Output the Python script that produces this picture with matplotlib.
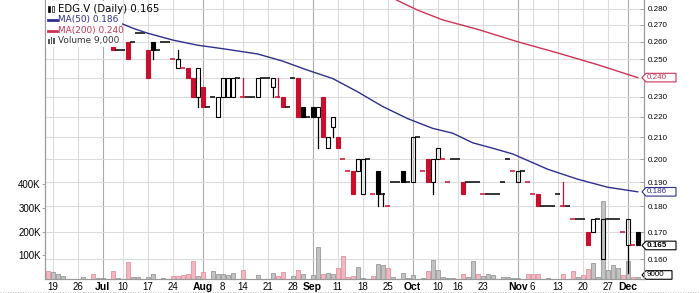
import numpy as np
import pandas as pd
import matplotlib
matplotlib.use('Agg')
import matplotlib.pyplot as plt
from matplotlib.patches import Rectangle, Polygon
from matplotlib.transforms import blended_transform_factory
from matplotlib.ticker import NullLocator, NullFormatter

plt.rcParams['font.family'] = ['Liberation Sans', 'DejaVu Sans']

# ------------------------------------------------------------------
# data (EDG.V daily, TSX-V trading days 2017)
# ------------------------------------------------------------------
holidays = ['2017-07-03', '2017-08-07', '2017-09-04', '2017-10-09']
dates = pd.bdate_range('2017-06-16', '2017-12-05')
dates = dates[~dates.isin(pd.to_datetime(holidays))]

# daily candles from Jul 6 (earlier ones sit under the legend)
first_candle = '2017-07-06'
prev_close = 0.26
opens = [0.258, 0.255, 0.255, 0.26, 0.26, 0.265, 0.265, 0.255, 0.26, 0.255,
         0.26, 0.26, 0.25, 0.245, 0.245, 0.245, 0.24, 0.23, 0.235, 0.225,
         0.23, 0.22, 0.23, 0.23, 0.23, 0.24, 0.23, 0.23, 0.23, 0.23,
         0.24, 0.24, 0.235, 0.23, 0.23, 0.225, 0.24, 0.24, 0.225, 0.22,
         0.225, 0.22, 0.23, 0.205, 0.215, 0.21, 0.2, 0.195, 0.195, 0.195,
         0.185, 0.2, 0.185, 0.195, 0.185, 0.18, 0.19, 0.19, 0.195, 0.19,
         0.19, 0.21, 0.195, 0.2, 0.19, 0.2, 0.2, 0.19, 0.2, 0.2,
         0.19, 0.19, 0.19, 0.19, 0.185, 0.185, 0.185, 0.185, 0.19, 0.2,
         0.195, 0.19, 0.195, 0.19, 0.185, 0.185, 0.18, 0.18, 0.18, 0.185,
         0.18, 0.18, 0.175, 0.175, 0.175, 0.17, 0.17, 0.175, 0.16, 0.175,
         0.175, 0.175, 0.17, 0.165, 0.165, 0.17]
highs = [0.258, 0.255, 0.255, 0.26, 0.26, 0.265, 0.265, 0.255, 0.26, 0.255,
         0.26, 0.26, 0.25, 0.255, 0.245, 0.245, 0.24, 0.245, 0.235, 0.225,
         0.23, 0.23, 0.24, 0.24, 0.24, 0.24, 0.24, 0.23, 0.23, 0.24,
         0.24, 0.24, 0.24, 0.24, 0.23, 0.225, 0.24, 0.24, 0.225, 0.22,
         0.225, 0.225, 0.23, 0.21, 0.22, 0.21, 0.2, 0.195, 0.195, 0.2,
         0.2, 0.2, 0.185, 0.195, 0.185, 0.18, 0.19, 0.19, 0.195, 0.19,
         0.21, 0.21, 0.195, 0.2, 0.2, 0.205, 0.2, 0.19, 0.2, 0.2,
         0.19, 0.19, 0.19, 0.19, 0.185, 0.185, 0.185, 0.185, 0.19, 0.2,
         0.195, 0.195, 0.195, 0.19, 0.185, 0.185, 0.18, 0.18, 0.18, 0.185,
         0.19, 0.18, 0.175, 0.175, 0.175, 0.17, 0.175, 0.175, 0.175, 0.175,
         0.175, 0.175, 0.17, 0.175, 0.165, 0.17]
lows = [0.255, 0.255, 0.255, 0.25, 0.26, 0.265, 0.265, 0.24, 0.25, 0.255,
        0.26, 0.26, 0.25, 0.245, 0.245, 0.24, 0.23, 0.225, 0.225, 0.225,
        0.23, 0.22, 0.23, 0.23, 0.23, 0.24, 0.23, 0.23, 0.23, 0.23,
        0.24, 0.24, 0.23, 0.23, 0.225, 0.225, 0.24, 0.22, 0.22, 0.22,
        0.22, 0.205, 0.21, 0.205, 0.21, 0.205, 0.2, 0.195, 0.185, 0.195,
        0.185, 0.2, 0.185, 0.18, 0.18, 0.18, 0.19, 0.19, 0.19, 0.19,
        0.19, 0.21, 0.195, 0.19, 0.185, 0.2, 0.2, 0.19, 0.2, 0.2,
        0.185, 0.19, 0.19, 0.19, 0.185, 0.185, 0.185, 0.185, 0.19, 0.2,
        0.195, 0.19, 0.195, 0.19, 0.185, 0.18, 0.18, 0.18, 0.18, 0.185,
        0.18, 0.18, 0.175, 0.175, 0.175, 0.165, 0.17, 0.175, 0.16, 0.175,
        0.175, 0.175, 0.17, 0.155, 0.165, 0.165]
closes = [0.255, 0.255, 0.255, 0.25, 0.26, 0.265, 0.265, 0.24, 0.255, 0.255,
          0.26, 0.26, 0.25, 0.25, 0.245, 0.24, 0.23, 0.245, 0.225, 0.225,
          0.23, 0.23, 0.24, 0.24, 0.24, 0.24, 0.23, 0.23, 0.23, 0.24,
          0.24, 0.24, 0.24, 0.23, 0.225, 0.225, 0.24, 0.22, 0.22, 0.22,
          0.22, 0.225, 0.21, 0.21, 0.22, 0.205, 0.2, 0.195, 0.185, 0.2,
          0.2, 0.2, 0.185, 0.185, 0.185, 0.18, 0.19, 0.19, 0.19, 0.19,
          0.21, 0.21, 0.195, 0.19, 0.2, 0.205, 0.2, 0.19, 0.2, 0.2,
          0.185, 0.19, 0.19, 0.19, 0.185, 0.185, 0.185, 0.185, 0.19, 0.2,
          0.195, 0.195, 0.195, 0.19, 0.185, 0.18, 0.18, 0.18, 0.18, 0.185,
          0.18, 0.18, 0.175, 0.175, 0.175, 0.165, 0.175, 0.175, 0.175, 0.175,
          0.175, 0.175, 0.17, 0.175, 0.165, 0.165]

# volume in thousands, one per trading day from Jun 16
volume_k = [35, 28, 21, 11, 0, 0, 0, 8, 0, 22,
            4, 4, 0, 35, 6, 0, 71, 7, 8, 0,
            8, 21, 0, 4, 0, 14, 11, 15, 22, 77,
            11, 29, 0, 35, 22, 21, 18, 25, 0, 36,
            0, 0, 18, 0, 0, 25, 14, 29, 0, 11,
            39, 22, 0, 15, 135, 21, 25, 22, 46, 95,
            10, 14, 51, 6, 0, 14, 63, 58, 46, 8,
            0, 25, 6, 18, 0, 4, 32, 81, 39, 8,
            4, 3, 0, 20, 8, 77, 22, 14, 21, 18,
            0, 8, 10, 4, 6, 0, 21, 22, 22, 0,
            4, 0, 0, 21, 0, 32, 10, 16, 42, 67,
            8, 327, 36, 58, 46, 18, 77, 8, 9]
volume_dir = list('pggggggggp' 'gggpggpggg' 'gggggppppp' 'gpgggggggp'
                  'ggggggppgg' 'pggggpggpp' 'ppgggpggpg' 'ggggggpggg'
                  'gggpggpggg' 'ggggggpppg' 'gggpgpgppg' 'gggggpgpg')

ma50_dates = ['2017-07-10', '2017-07-12', '2017-07-17', '2017-07-24', '2017-07-31',
              '2017-08-08', '2017-08-17', '2017-08-24', '2017-08-31', '2017-09-08',
              '2017-09-15', '2017-09-22', '2017-09-29', '2017-10-06', '2017-10-13',
              '2017-10-19', '2017-10-25', '2017-10-31', '2017-11-09', '2017-11-17',
              '2017-11-27', '2017-12-05']
ma50_vals = [0.2705, 0.268, 0.265, 0.261, 0.258, 0.256, 0.253, 0.249, 0.244, 0.2395,
             0.2325, 0.225, 0.219, 0.2143, 0.212, 0.2075, 0.205, 0.2024, 0.1956, 0.1913,
             0.1879, 0.186]
ma200_dates = ['2017-09-22', '2017-09-27', '2017-10-03', '2017-10-11', '2017-10-20',
               '2017-11-01', '2017-11-13', '2017-11-23', '2017-12-05']
ma200_vals = [0.29, 0.285, 0.279, 0.273, 0.2673, 0.26, 0.2536, 0.247, 0.240]

tick_dates = ['2017-06-19', '2017-06-26', '2017-07-04', '2017-07-10', '2017-07-17',
              '2017-07-24', '2017-08-01', '2017-08-08', '2017-08-14', '2017-08-21',
              '2017-08-28', '2017-09-01', '2017-09-11', '2017-09-18', '2017-09-25',
              '2017-10-02', '2017-10-10', '2017-10-16', '2017-10-23', '2017-11-01',
              '2017-11-06', '2017-11-13', '2017-11-20', '2017-11-27', '2017-12-01']
tick_labels = ['19', '26', 'Jul', '10', '17', '24', 'Aug', '8', '14', '21', '28',
               'Sep', '11', '18', '25', 'Oct', '10', '16', '23', 'Nov', '6', '13',
               '20', '27', 'Dec']
months = ['Jul', 'Aug', 'Sep', 'Oct', 'Nov', 'Dec']

price_ticks = [0.28, 0.27, 0.26, 0.25, 0.23, 0.22, 0.21, 0.20, 0.19, 0.18, 0.17, 0.16]
vol_ticks = [100000, 200000, 300000, 400000]
vol_tick_labels = ['100K', '200K', '300K', '400K']

last_close = 0.165
last_ma50 = 0.186
last_ma200 = 0.240
last_volume = 9000

# ------------------------------------------------------------------
RED = '#c8102e'
NAVY = '#2e2e8e'
MA_RED = '#cc3355'
GRID = '#dcdcdc'
GRID_M = '#a9a9a9'

W, H = 700, 293
fig = plt.figure(figsize=(7, 2.93), dpi=100)
fig.patch.set_facecolor('white')
ax_vol = fig.add_axes([45 / W, (H - 279) / H, 599 / W, 279 / H])
ax = ax_vol.twinx()
ax.patch.set_visible(False)

pos = lambda d: dates.get_loc(pd.Timestamp(d))
xs = np.arange(len(dates))
xmin, xmax = -0.54, 119.26

# volume
vol = np.array(volume_k) * 1000.0
fc = ['#f2b8c2' if c == 'p' else '#c2c2c2' for c in volume_dir]
ec = ['#d98592' if c == 'p' else '#8a8a8a' for c in volume_dir]
keep = vol > 0
ax_vol.bar(xs[keep], vol[keep], width=0.8, color=np.array(fc)[keep],
           edgecolor=np.array(ec)[keep], linewidth=0.5, zorder=3)
ax_vol.set_ylim(0, 1.177e6)
ax_vol.set_yticks(vol_ticks, vol_tick_labels)

# grid (drawn on the lower axes so bars sit over it)
tick_pos = [pos(d) for d in tick_dates]
for p, lab in zip(tick_pos, tick_labels):
    ax_vol.axvline(p, color=GRID_M if lab in months else GRID, lw=0.8, zorder=1)
hx = blended_transform_factory(ax_vol.transAxes, ax.transData)
for p in np.arange(0.16, 0.285, 0.01):
    ax_vol.plot([0, 1], [p, p], transform=hx, color=GRID, lw=0.8, zorder=1)

# candles
ax.set_yscale('log')
ax.set_ylim(0.1531, 0.2854)
ax.set_xlim(xmin, xmax)
ax_vol.set_xlim(xmin, xmax)
w = 0.8
c0 = pos(first_candle)
prev = prev_close
for k, (o, h, l, c) in enumerate(zip(opens, highs, lows, closes)):
    x = c0 + k
    col = RED if c < prev else 'black'
    lo, hi = min(o, c), max(o, c)
    if h > hi:
        ax.plot([x, x], [hi, h], color=col, lw=0.9, zorder=4)
    if l < lo:
        ax.plot([x, x], [l, lo], color=col, lw=0.9, zorder=4)
    if o == c:
        ax.plot([x - w / 2 - 0.1, x + w / 2 + 0.1], [c, c], color=col, lw=1.1,
                zorder=4, solid_capstyle='butt')
    else:
        ax.add_patch(Rectangle((x - w / 2, lo), w, hi - lo,
                               facecolor=col if c < o else 'none',
                               edgecolor=col, lw=0.8, zorder=4))
    prev = c

# moving averages
ax.plot([pos(d) for d in ma50_dates], ma50_vals, color=NAVY, lw=1.0, zorder=5)
ax.plot([pos(d) for d in ma200_dates], ma200_vals, color=MA_RED, lw=1.0, zorder=5)

# axes cosmetics
ax.yaxis.set_minor_locator(NullLocator())
ax.yaxis.set_minor_formatter(NullFormatter())
ax.set_yticks(price_ticks, ['%.3f' % t for t in price_ticks])
ax.tick_params(axis='y', which='major', direction='in', length=3, width=0.6,
               color='#999999', labelsize=5.8, pad=3)
ax_vol.tick_params(axis='y', direction='out', length=2, width=0.6, color='#999999',
                   labelsize=7, pad=1)
ax_vol.set_xticks(tick_pos, tick_labels)
ax_vol.tick_params(axis='x', length=0, labelsize=7, pad=2.5)
for t in ax_vol.get_xticklabels():
    if t.get_text() in months:
        t.set_fontweight('bold')
        t.set_fontsize(7.5)
ax.tick_params(axis='x', length=0, labelbottom=False)
for a in (ax, ax_vol):
    a.spines['top'].set_visible(False)
    for s in ('left', 'right', 'bottom'):
        a.spines[s].set_color('#999999')
        a.spines[s].set_linewidth(0.8)

# value tags on the right axis
def tag(axis, y, text, color, bold=False, width=34):
    tr = blended_transform_factory(axis.transAxes, axis.transData)
    x0 = (642 - 45) / 599.0
    dx = 1 / 599.0
    if axis is ax:
        fy = np.exp(4.3 / 448.0)
        ys = [y, y * fy, y * fy, y / fy, y / fy]
    else:
        dv = 4.3 / 279.0 * 1.177e6
        ys = [y, y + dv, y + dv, y - dv, y - dv]
    xv = [x0, x0 + 4 * dx, x0 + width * dx, x0 + width * dx, x0 + 4 * dx]
    axis.add_patch(Polygon(list(zip(xv, ys)), closed=True, facecolor='white',
                           edgecolor=color, lw=0.8, transform=tr, clip_on=False,
                           zorder=6))
    axis.text(x0 + 5 * dx, y, text, transform=tr, color=color, fontsize=5.8,
              fontweight='bold' if bold else 'normal', va='center', ha='left',
              clip_on=False, zorder=7)

tag(ax, last_ma200, '%.3f' % last_ma200, MA_RED)
tag(ax, last_ma50, '%.3f' % last_ma50, NAVY)
tag(ax, last_close, '%.3f' % last_close, 'black', bold=True)
tag(ax_vol, last_volume + 8000, '%d' % last_volume, 'black', width=30)

# legend block (top-left, on white)
fig.add_artist(Rectangle((46 / W, 1 - 47 / H), 73 / W, 46 / H, facecolor='white',
                         edgecolor='none', transform=fig.transFigure, zorder=2))
fx = lambda x: x / W
fy = lambda y: 1 - y / H
leg_rows = [(8.5, 'EDG.V (Daily) %.3f' % last_close, 7.3),
            (19.5, 'MA(50) %.3f' % last_ma50, 6.4),
            (30.5, 'MA(200) %.3f' % last_ma200, 6.4),
            (41.0, 'Volume {:,}'.format(last_volume), 6.4)]
for (yy, txt, fs), col in zip(leg_rows, ['black', NAVY, MA_RED, '#333333']):
    fig.text(fx(58), fy(yy), txt, color=col, fontsize=fs, va='center',
             ha='left', family='DejaVu Sans', zorder=4)
# candle icon
fig.add_artist(Rectangle((fx(48), fy(11.5)), 2 / W, 6 / H, facecolor='black',
                         edgecolor='black', lw=0.5, transform=fig.transFigure, zorder=3))
fig.add_artist(Rectangle((fx(52), fy(12)), 2 / W, 6 / H, facecolor='white',
                         edgecolor='black', lw=0.5, transform=fig.transFigure, zorder=3))
# line icons
for yy, col in ((19.5, NAVY), (30.5, MA_RED)):
    fig.add_artist(plt.Line2D([fx(48), fx(57)], [fy(yy), fy(yy)], color=col, lw=2,
                              transform=fig.transFigure, zorder=3))
# volume icon
for bx, bh in ((48, 5), (50.5, 7), (53, 6)):
    fig.add_artist(Rectangle((fx(bx), fy(44)), 1.8 / W, bh / H, facecolor='#555555',
                             edgecolor='none', transform=fig.transFigure, zorder=3))

# dotted rule along the bottom edge
fig.add_artist(plt.Line2D([0, 1], [fy(291.5), fy(291.5)], color='#aaaaaa', lw=0.6,
                          ls=(0, (1, 2)), transform=fig.transFigure))

fig.savefig('out.png', dpi=100, facecolor='white')
